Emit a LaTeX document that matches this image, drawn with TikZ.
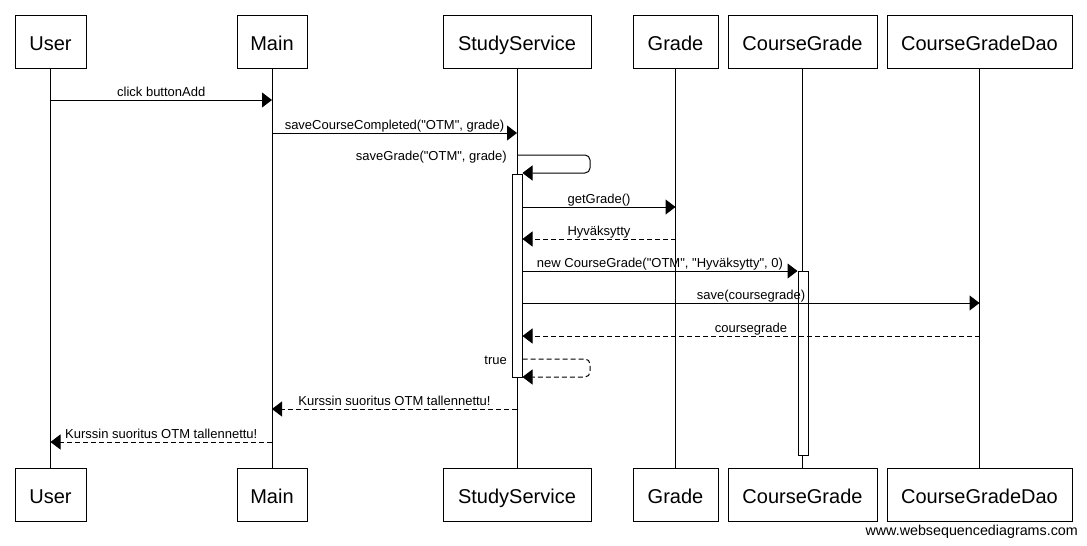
\documentclass[tikz,border=0pt]{standalone}
\usepackage{fontspec}
\newfontfamily\arial{Liberation Sans}
\usetikzlibrary{arrows.meta}
\begin{document}
\begin{tikzpicture}[x=1pt,y=-1pt,
 part/.style={draw, line width=1pt, minimum height=53pt, inner sep=0pt, text height=21pt, text depth=4pt, fill=white, font=\arial\fontsize{20}{24}\selectfont},
 life/.style={line width=1pt},
 msg/.style={line width=1pt, -{Triangle[length=10pt,width=15pt]}},
 ret/.style={msg, dash pattern=on 5pt off 3pt},
 lbl/.style={font=\arial\fontsize{13}{15}\selectfont, anchor=base, yshift=4pt, inner sep=0pt},
 slbl/.style={font=\arial\fontsize{13}{15}\selectfont, anchor=base east, inner sep=0pt},
 act/.style={draw, fill=white, line width=1pt, minimum width=10pt, inner sep=0pt}]
\useasboundingbox (0,0) rectangle (1087,546);
% participants top
\node[part, minimum width=71pt] (userT) at (50.5,41.5) {User};
\node[part, minimum width=70pt] (mainT) at (272,41.5) {Main};
\node[part, minimum width=148pt] (ssT) at (517,41.5) {StudyService};
\node[part, minimum width=85pt] (gradeT) at (675.5,41.5) {Grade};
\node[part, minimum width=149pt] (cgT) at (802.5,41.5) {CourseGrade};
\node[part, minimum width=185pt] (daoT) at (979.5,41.5) {CourseGradeDao};
% participants bottom
\node[part, minimum width=71pt] (userB) at (50.5,494.5) {User};
\node[part, minimum width=70pt] (mainB) at (272,494.5) {Main};
\node[part, minimum width=148pt] (ssB) at (517,494.5) {StudyService};
\node[part, minimum width=85pt] (gradeB) at (675.5,494.5) {Grade};
\node[part, minimum width=149pt] (cgB) at (802.5,494.5) {CourseGrade};
\node[part, minimum width=185pt] (daoB) at (979.5,494.5) {CourseGradeDao};
% lifelines
\draw[life] (userT) -- (userB);
\draw[life] (mainT) -- (mainB);
\draw[life] (ssT) -- (ssB);
\draw[life] (gradeT) -- (gradeB);
\draw[life] (cgT) -- (cgB);
\draw[life] (daoT) -- (daoB);
% activations
\node[act, minimum height=203pt] (ssAct) at (517,275.5) {};
\node[act, minimum height=184pt] (cgAct) at (803,363) {};
% messages
\draw[msg] (userT |- 0,100) -- node[lbl]{click buttonAdd} (mainT |- 0,100);
\draw[msg] (mainT |- 0,133) -- node[lbl]{saveCourseCompleted("OTM", grade)} (ssT |- 0,133);
\draw[msg, rounded corners=5pt] (ssT |- 0,155) -| (590,173) -- (ssAct.east |- 0,173);
\node[slbl] (l3) at (507,160) {saveGrade("OTM", grade)};
\draw[msg] (ssAct.east |- 0,207) -- node[lbl]{getGrade()} (gradeT |- 0,207);
\draw[ret] (gradeT |- 0,239) -- node[lbl]{Hyväksytty} (ssAct.east |- 0,239);
\draw[msg] (ssAct.east |- 0,271) -- node[lbl]{new CourseGrade("OTM", "Hyväksytty", 0)} (cgAct.west |- 0,271);
\draw[msg] (ssAct.east |- 0,303) -- node[lbl]{save(coursegrade)} (daoT |- 0,303);
\draw[ret] (daoT |- 0,336) -- node[lbl]{coursegrade} (ssAct.east |- 0,336);
\draw[ret, rounded corners=5pt] (ssAct.east |- 0,359) -| (590,377) -- (ssAct.east |- 0,377);
\node[slbl] (l9) at (507,364) {true};
\draw[ret] (ssT |- 0,409) -- node[lbl]{Kurssin suoritus OTM tallennettu!} (mainT |- 0,409);
\draw[ret] (mainT |- 0,442) -- node[lbl]{Kurssin suoritus OTM tallennettu!} (userT |- 0,442);
% watermark
\node[font=\arial\fontsize{14.3}{17}\selectfont, anchor=base east, inner sep=0pt] (wm) at (1078,535) {www.websequencediagrams.com};
\end{tikzpicture}
\end{document}
